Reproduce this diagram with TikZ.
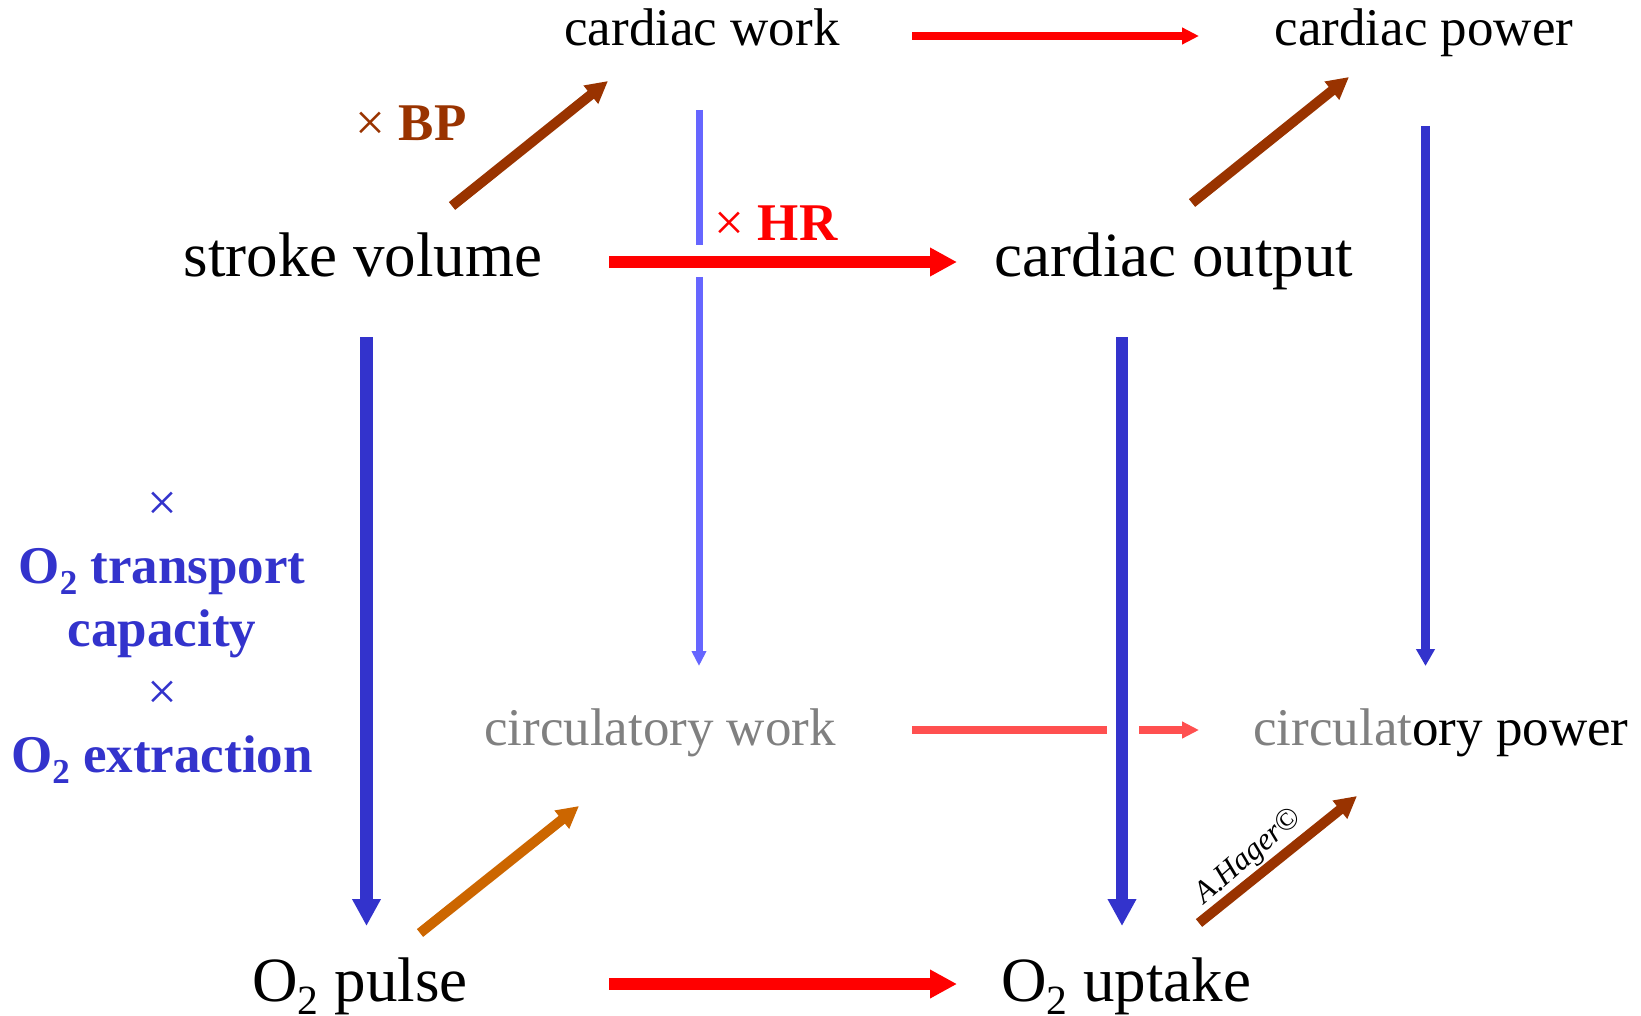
\documentclass[tikz,border=0pt]{standalone}
\usepackage{fontspec}
\setmainfont{Liberation Serif}
\usetikzlibrary{arrows.meta}
\definecolor{cbrown}{HTML}{993300}
\definecolor{cred}{HTML}{FF0000}
\definecolor{cblue}{HTML}{3333CC}
\definecolor{clblue}{HTML}{6666FF}
\definecolor{clred}{HTML}{FF5050}
\definecolor{corange}{HTML}{CC6600}
\definecolor{cgrey}{HTML}{808080}
\newcommand\Otwo{O\raisebox{-0.22em}{\scalebox{0.66}{2}}}
\begin{document}
\begin{tikzpicture}[x=1pt,y=-1pt,
  lab/.style={font=\fontsize{53}{63}\selectfont, anchor=base, inner sep=0pt},
  biglab/.style={font=\fontsize{63}{75}\selectfont, anchor=base, inner sep=0pt},
  factor/.style={font=\fontsize{53}{63}\selectfont\bfseries, anchor=base, inner sep=0pt},
  thinarr/.style={line width=8pt, -{Triangle[length=17pt, width=16pt]}},
  thickarr/.style={line width=12.5pt, -{Triangle[length=27pt, width=27pt]}},
  diagarr/.style={line width=10pt, -{Triangle[length=22pt, width=22pt]}},
  midarr/.style={line width=9pt, -{Triangle[length=17pt, width=18pt]}}]
\useasboundingbox (0,0) rectangle (1641,1016);

% text nodes
\node[lab] (cw) at (702,46) {cardiac work};
\node[lab] (cp) at (1424,46) {cardiac power};
\node[biglab] (sv) at (363,277) {stroke volume};
\node[biglab] (co) at (1174,277) {cardiac output};
\node[biglab] (op) at (360,1001) {\Otwo{} pulse};
\node[biglab] (ou) at (1126,1001) {\Otwo{} uptake};
\node[lab, text=cgrey] (cwk) at (660,745) {circulatory work};
\node[lab] (cpw) at (1441,745) {{\color{cgrey}circulat}ory power};
\node[factor, text=cbrown] (bp) at (411,141) {{\mdseries ×} BP};
\node[factor, text=cred] (hr) at (776,241) {{\mdseries ×} HR};
\node[factor, text=cblue, align=center] (ox) at (162,772)
  {{\mdseries ×}\\\Otwo{} transport\\capacity\\{\mdseries ×}\\\Otwo{} extraction};
\node[font=\fontsize{31}{31}\selectfont\itshape, rotate=41, inner sep=0pt] (ah) at (1249,857) {A.Hager©};

% arrow end points
\coordinate (cwE) at (912,36);   \coordinate (cpW) at (1199,36);
\coordinate (bpS) at (452,206);  \coordinate (bpN) at (608,81);
\coordinate (coNE) at (1192,203); \coordinate (cpSW) at (1349,77);
\coordinate (svE) at (609,262);  \coordinate (coW) at (957,262);
\coordinate (cwS) at (699,110);  \coordinate (gapA) at (699,245);
\coordinate (gapB) at (699,277); \coordinate (cwkN) at (699,666);
\coordinate (svS) at (366.5,337); \coordinate (opN) at (366.5,926);
\coordinate (coS) at (1122,337); \coordinate (ouN) at (1122,926);
\coordinate (cpS) at (1425.5,126); \coordinate (cpwN) at (1425.5,666);
\coordinate (cwkE) at (912,730); \coordinate (gapC) at (1107,730);
\coordinate (gapD) at (1139,730); \coordinate (cpwW) at (1199,730);
\coordinate (opNE) at (420,933); \coordinate (cwkSW) at (579,806);
\coordinate (ouNE) at (1199,923); \coordinate (cpwSW) at (1357,796);
\coordinate (opE) at (609,984);  \coordinate (ouW) at (957,984);

% connectors
\draw[thinarr, cred] (cwE) -- (cpW);
\draw[diagarr, cbrown] (bpS) -- (bpN);
\draw[diagarr, cbrown] (coNE) -- (cpSW);
\draw[line width=7pt, clblue] (cwS) -- (gapA);
\draw[line width=7pt, clblue, -{Triangle[length=15pt, width=14pt]}] (gapB) -- (cwkN);
\draw[thickarr, cred] (svE) -- (coW);
\draw[thickarr, cblue] (svS) -- (opN);
\draw[midarr, cblue] (cpS) -- (cpwN);
\draw[line width=8pt, clred] (cwkE) -- (gapC);
\draw[thinarr, clred] (gapD) -- (cpwW);
\draw[thickarr, cblue] (coS) -- (ouN);
\draw[diagarr, corange] (opNE) -- (cwkSW);
\draw[diagarr, cbrown] (ouNE) -- (cpwSW);
\draw[thickarr, cred] (opE) -- (ouW);
\end{tikzpicture}
\end{document}
